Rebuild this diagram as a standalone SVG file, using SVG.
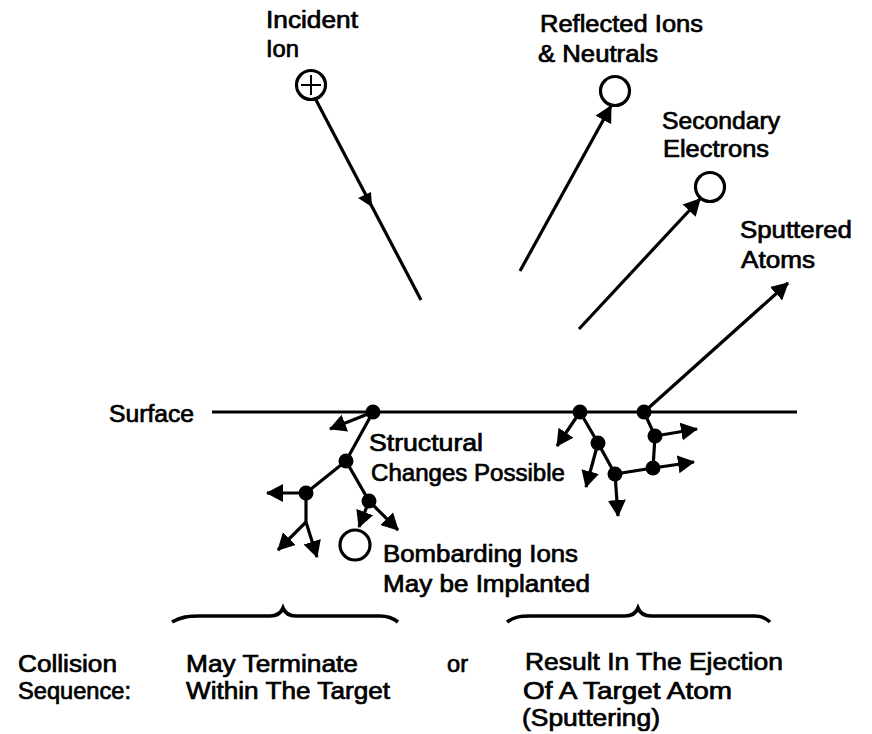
<svg xmlns="http://www.w3.org/2000/svg" width="872" height="734" viewBox="0 0 872 734">
<style>
text{font-family:"Liberation Sans",Arial,sans-serif;font-size:23px;fill:#000;stroke:#000;stroke-width:.7px}
.l{fill:none;stroke:#000;stroke-width:3.2}
.a{marker-end:url(#ah)}
.d{fill:#000}
.o{fill:#fff;stroke:#000;stroke-width:3.2}
.b{fill:none;stroke:#000;stroke-width:3.6}
</style>
<defs><marker id="ah" markerUnits="userSpaceOnUse" markerWidth="20" markerHeight="20" refX="16" refY="10" orient="auto"><path d="M0 1L17 10L0 19Z" fill="#000"/></marker></defs>
<rect width="872" height="734" fill="#fff"/>
<g id="connectors">
<path class="l" d="M212 412H797"/>
<path class="l" d="M316 100L421 300"/><path d="M358 198L371 192L372 207Z" fill="#000"/>
<path class="l a" d="M520 271L611 106"/>
<path class="l a" d="M579 329L700 199"/>
<path class="l a" d="M644 412L788 283"/>
<path class="l a" d="M373 412L330 429"/>
<path class="l" d="M373 412L346 461L306 493"/>
<path class="l a" d="M306 493H267"/>
<path class="l" d="M346 461L369 501"/>
<path class="l a" d="M369 501L359 527"/>
<path class="l a" d="M369 501L398 530"/>
<path class="l" d="M306 493V522"/>
<path class="l a" d="M306 522L278 550"/>
<path class="l a" d="M306 522L317 557"/>
<path class="l a" d="M580 412L557 446"/>
<path class="l" d="M580 412L598 443L615 474L653 468"/>
<path class="l a" d="M598 443L586 487"/>
<path class="l a" d="M615 474L618 516"/>
<path class="l a" d="M653 468L694 462"/>
<path class="l" d="M653 468L655 436L644 412"/>
<path class="l a" d="M655 436L697 429"/>
<path class="b" d="M172 622C181 617 188 616 200 616H270C277 616 281 613 283 608C285 613 289 616 296 616H380C388 616 393 618 398 622"/>
<path class="b" d="M507 622C514 617 520 616 530 616H625C632 616 636 613 638 608C640 613 644 616 651 616H755C762 616 766 618 770 622"/>
</g>
<g id="incident-ion"><circle class="o" cx="311" cy="85" r="14.5"/><path d="M311 75V95M301 85H321" stroke="#000" stroke-width="2" fill="none"/><text x="266" y="28" textLength="92" lengthAdjust="spacingAndGlyphs">Incident</text><text x="266" y="57" textLength="33" lengthAdjust="spacingAndGlyphs">Ion</text></g>
<g id="reflected"><circle class="o" cx="615" cy="91" r="14.5"/><text x="540" y="32" textLength="163" lengthAdjust="spacingAndGlyphs">Reflected Ions</text><text x="538" y="62" textLength="120" lengthAdjust="spacingAndGlyphs">&amp; Neutrals</text></g>
<g id="secondary"><circle class="o" cx="710" cy="187" r="14.5"/><text x="662" y="129" textLength="118" lengthAdjust="spacingAndGlyphs">Secondary</text><text x="663" y="157" textLength="106" lengthAdjust="spacingAndGlyphs">Electrons</text></g>
<g id="sputtered"><text x="740" y="238" textLength="112" lengthAdjust="spacingAndGlyphs">Sputtered</text><text x="741" y="268" textLength="74" lengthAdjust="spacingAndGlyphs">Atoms</text></g>
<g id="surface"><text x="109" y="422" textLength="85" lengthAdjust="spacingAndGlyphs">Surface</text></g>
<g id="left-sites"><circle class="d" cx="373" cy="412" r="7.5"/><circle class="d" cx="346" cy="461" r="7.5"/><circle class="d" cx="306" cy="493" r="7.5"/><circle class="d" cx="369" cy="501" r="7.5"/></g>
<g id="right-sites"><circle class="d" cx="580" cy="412" r="7.5"/><circle class="d" cx="644" cy="412" r="7.5"/><circle class="d" cx="598" cy="443" r="7.5"/><circle class="d" cx="615" cy="474" r="7.5"/><circle class="d" cx="653" cy="468" r="7.5"/><circle class="d" cx="655" cy="436" r="7.5"/></g>
<g id="structural"><text x="369" y="451" textLength="114" lengthAdjust="spacingAndGlyphs">Structural</text><text x="371" y="481" textLength="194" lengthAdjust="spacingAndGlyphs">Changes Possible</text></g>
<g id="implanted"><circle class="o" cx="355" cy="545" r="15"/><text x="383" y="562" textLength="195" lengthAdjust="spacingAndGlyphs">Bombarding Ions</text><text x="383" y="592" textLength="207" lengthAdjust="spacingAndGlyphs">May be Implanted</text></g>
<g id="caption"><text x="18" y="672" textLength="99" lengthAdjust="spacingAndGlyphs">Collision</text><text x="18" y="699" textLength="113" lengthAdjust="spacingAndGlyphs">Sequence:</text><text x="186" y="672" textLength="172" lengthAdjust="spacingAndGlyphs">May Terminate</text><text x="186" y="699" textLength="204" lengthAdjust="spacingAndGlyphs">Within The Target</text><text x="447" y="672" textLength="21" lengthAdjust="spacingAndGlyphs">or</text><text x="525" y="670" textLength="258" lengthAdjust="spacingAndGlyphs">Result In The Ejection</text><text x="523" y="699" textLength="209" lengthAdjust="spacingAndGlyphs">Of A Target Atom</text><text x="522" y="726" textLength="138" lengthAdjust="spacingAndGlyphs">(Sputtering)</text></g>
</svg>
